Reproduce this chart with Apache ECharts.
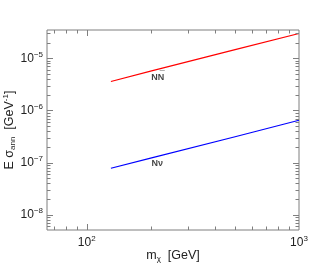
<!DOCTYPE html>
<html><head><meta charset="utf-8">
<script src="https://cdn.jsdelivr.net/npm/echarts@6/dist/echarts.min.js"></script>
<style>html,body{margin:0;padding:0;background:#fff}#c{width:315px;height:275px}</style>
</head><body><div id="c"></div>
<script>
// data
const massNN = [130, 200, 500, 1000];
const sigmaNN = [3.6e-6, 5.7e-6, 1.47e-5, 3.0e-5];
const massNnu = [130, 200, 500, 1000];
const sigmaNnu = [7.8e-8, 1.22e-7, 3.14e-7, 6.5e-7];
const xMajorTicks = [100, 1000];
const xMinorTicks = [70, 80, 90, 200, 300, 400, 500, 600, 700, 800, 900];
const yMajorTicks = [1e-8, 1e-7, 1e-6, 1e-5];
const yMinorTicks = [];
[1e-9, 1e-8, 1e-7, 1e-6, 1e-5].forEach(d => { for (let k = 2; k <= 9; k++) yMinorTicks.push(d * k); });
const xRange = [65, 1000];
const yRange = [5.1e-9, 3.5e-5];
const annLabels = ['{o|\u00af}\n{t|NN}', '{t|N\u03bd}'];
const annX = [216, 215];
const annY = [4.4e-6, 9.8e-8];

const FONT = 'Liberation Sans, Arial, sans-serif';
const chart = echarts.init(document.getElementById('c'), null, {renderer: 'canvas'});
const supRich = {
  b: {fontSize: 12, fontFamily: FONT, color: '#222'},
  s: {fontSize: 8, fontFamily: FONT, color: '#222', padding: [0, 0, 8, 0]}
};
function expOf(v) { return Math.round(Math.log10(v)); }
function isPow(v) { const e = Math.log10(v); return Math.abs(e - Math.round(e)) < 1e-6; }

function renderTicks(params, api) {
  const children = [];
  const style = {stroke: '#7f7f7f', lineWidth: 1};
  const add = (x1, y1, x2, y2) => children.push({type: 'line', shape: {x1, y1, x2, y2}, style});
  const xt = xMajorTicks.map(v => [v, 6]).concat(xMinorTicks.map(v => [v, 3.5]));
  xt.forEach(([v, L]) => {
    if (v <= xRange[0] || v >= xRange[1]) return;
    const b = api.coord([v, yRange[0]]);
    const t = api.coord([v, yRange[1]]);
    const x = Math.round(b[0]) + 0.5;
    add(x, b[1], x, b[1] - L);
    add(x, t[1], x, t[1] + L);
  });
  const yt = yMajorTicks.map(v => [v, 6]).concat(yMinorTicks.map(v => [v, 3.5]));
  yt.forEach(([v, L]) => {
    if (v <= yRange[0] || v >= yRange[1]) return;
    const l = api.coord([xRange[0], v]);
    const r = api.coord([xRange[1], v]);
    const y = Math.round(l[1]) + 0.5;
    add(l[0], y, l[0] + L, y);
    add(r[0], y, r[0] - L, y);
  });
  return {type: 'group', children};
}

chart.setOption({
  animation: false,
  backgroundColor: '#fff',
  grid: {left: 47, top: 30, right: 16, bottom: 45, containLabel: false, outerBoundsMode: 'none',
         show: true, borderColor: '#7f7f7f', borderWidth: 1},
  xAxis: {
    type: 'log', logBase: 10, min: xRange[0], max: xRange[1],
    axisLine: {show: false}, axisTick: {show: false}, splitLine: {show: false},
    axisLabel: {
      showMinLabel: false, margin: 5,
      formatter: v => isPow(v) ? '{b|10}{s|' + expOf(v) + '}' : '',
      rich: supRich
    },
    name: '{n|m}{sub|\u03c7}{n|  [GeV]}', nameLocation: 'middle', nameGap: 19, nameMoveOverlap: false,
    nameTextStyle: {rich: {
      n: {fontSize: 12.5, fontFamily: FONT, color: '#222'},
      sub: {fontSize: 8, fontFamily: FONT, color: '#222', padding: [6, 0, 0, 0]}
    }}
  },
  yAxis: {
    type: 'log', logBase: 10, min: yRange[0], max: yRange[1],
    axisLine: {show: false}, axisTick: {show: false}, splitLine: {show: false},
    axisLabel: {
      showMinLabel: false, showMaxLabel: false, margin: 4,
      formatter: v => isPow(v) ? '{b|10}{s|\u2212' + Math.abs(expOf(v)) + '}' : '',
      rich: supRich
    },
    name: '{n|E \u03c3}{sub|ann}{n|  [GeV}{sup|-1}{n|]}', nameLocation: 'middle', nameGap: 29, nameRotate: 90,
    nameMoveOverlap: false,
    nameTextStyle: {rich: {
      n: {fontSize: 12.5, fontFamily: FONT, color: '#222'},
      sub: {fontSize: 8, fontFamily: FONT, color: '#222', padding: [6, 0, 0, 0]},
      sup: {fontSize: 8, fontFamily: FONT, color: '#222', padding: [0, 0, 8, 0]}
    }}
  },
  series: [
    {type: 'line', data: massNN.map((m, i) => [m, sigmaNN[i]]), showSymbol: false,
     lineStyle: {color: '#ff0000', width: 1.2}, itemStyle: {color: '#ff0000'}},
    {type: 'line', data: massNnu.map((m, i) => [m, sigmaNnu[i]]), showSymbol: false,
     lineStyle: {color: '#0000ff', width: 1.2}, itemStyle: {color: '#0000ff'}},
    {type: 'scatter', symbolSize: 0, silent: true,
     data: annLabels.map((t, i) => ({value: [annX[i], annY[i]], name: t})),
     label: {show: true, position: 'inside', formatter: p => p.name,
       rich: {
         t: {fontSize: 9, fontWeight: 'bold', fontFamily: FONT, color: '#111', lineHeight: 4},
         o: {fontSize: 9, fontWeight: 'bold', fontFamily: FONT, color: '#111', lineHeight: 1, padding: [0, 0, 0, 9]}
       }}},
    {type: 'custom', silent: true, data: [[xRange[0], yRange[0]]], renderItem: renderTicks, z: 10}
  ]
});
</script></body></html>
